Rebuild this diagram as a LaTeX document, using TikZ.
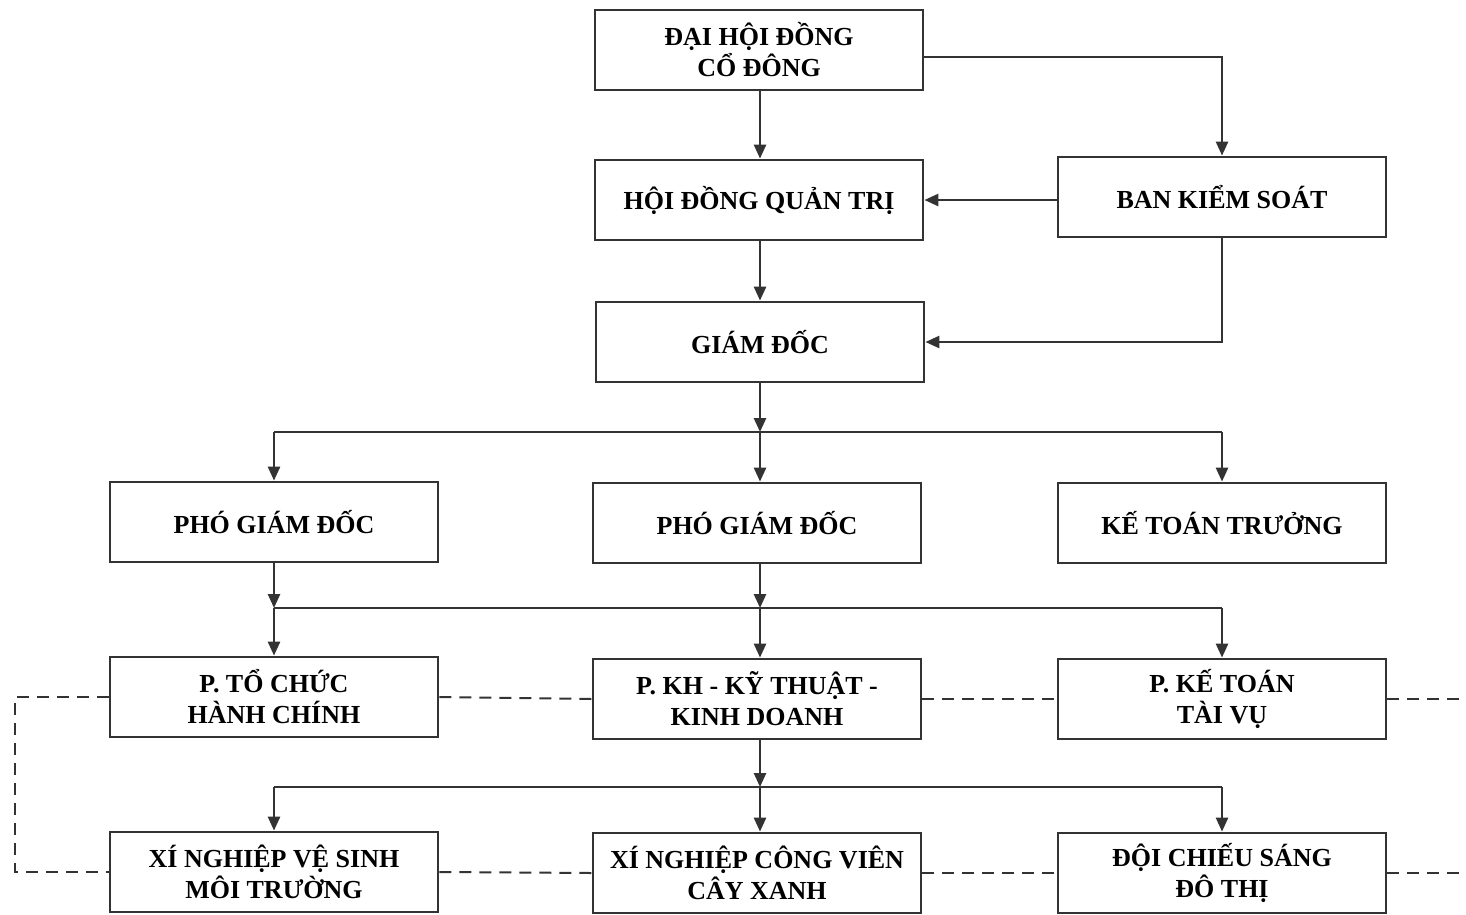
\documentclass[tikz,border=0pt]{standalone}
\usepackage{fontspec}
\setmainfont{Liberation Serif}
\usetikzlibrary{arrows.meta}

\begin{document}
\begin{tikzpicture}[x=1pt,y=-1pt,
  line width=2.6pt, draw=black!80,
  >={Triangle[length=14pt,width=12pt]}]
\tikzstyle{every node}=[draw=black!80,line width=2.8pt,minimum width=328pt,minimum height=80pt,
  align=center,inner sep=0pt,font=\bfseries\fontsize{26}{31}\selectfont]
\tikzstyle{link}=[dash pattern=on 12pt off 8pt,line width=2pt]
    \fill[white] (0,0) rectangle (1466,914);
    \useasboundingbox (0,0) rectangle (1466,914);
    % top levels
    \node (DHDCD) at (759,50)   {ĐẠI HỘI ĐỒNG\\CỔ ĐÔNG};
    \node (HDQT)  at (759,200)  {HỘI ĐỒNG QUẢN TRỊ};
    \node (BKS)   at (1222,197) {BAN KIỂM SOÁT};
    \node (GD)    at (760,342)  {GIÁM ĐỐC};
    % second level
    \node (PGD-1) at (274,522)  {PHÓ GIÁM ĐỐC};
    \node (PGD-2) at (757,523)  {PHÓ GIÁM ĐỐC};
    \node (KTT)   at (1222,523) {KẾ TOÁN TRƯỞNG};
    % departments
    \node (PTC)   at (274,697)  {P. TỔ CHỨC\\HÀNH CHÍNH};
    \node (PKH)   at (757,699)  {P. KH - KỸ THUẬT -\\KINH DOANH};
    \node (PKT)   at (1222,699) {P. KẾ TOÁN\\TÀI VỤ};
    % units
    \node (XN-1)  at (274,872)  {XÍ NGHIỆP VỆ SINH\\MÔI TRƯỜNG};
    \node (XN-2)  at (757,873)  {XÍ NGHIỆP CÔNG VIÊN\\CÂY XANH};
    \node (DCS)   at (1222,873) {ĐỘI CHIẾU SÁNG\\ĐÔ THỊ};

   \begin{scope}[every node/.style={}]
     \coordinate (Top)  at (922,57);
     \coordinate (Bus-1) at (760,432);
     \coordinate (Bus-2) at (760,608);
     \coordinate (Bus-3) at (760,787);
     \coordinate (Edge-L) at (15,0);
     \coordinate (Edge-R) at (1466,0);
   \end{scope}

   \draw[->] (DHDCD.south -| Bus-1) -- (HDQT.north -| Bus-1);
   \draw[->] (Top) -- (Top -| BKS) -- (BKS.north);
   \draw[->] (BKS.west |- HDQT) -- (HDQT.east);
   \draw[->] (HDQT.south -| Bus-1) -- (GD.north -| Bus-1);
   \draw[->] (BKS.south) -- (BKS.south |- GD.east) -- (GD.east);

   % Buses to each level
   \draw[->] (GD.south -| Bus-1) -- (Bus-1);
   \draw (Bus-1 -| PGD-1) -- (Bus-1 -| KTT);
   \foreach \n in {PGD-1,KTT}
     \draw[->] (Bus-1 -| \n) -- (\n.north);
   \draw[->] (Bus-1) -- (Bus-1 |- PGD-2.north);
   \draw[->] (PGD-1.south) -- (Bus-2 -| PGD-1);
   \draw[->] (PGD-2.south -| Bus-2) -- (Bus-2);
   \draw (Bus-2 -| PTC) -- (Bus-2 -| PKT);
   \foreach \n in {PTC,PKT}
     \draw[->] (Bus-2 -| \n) -- (\n.north);
   \draw[->] (Bus-2) -- (Bus-2 |- PKH.north);
   \draw[->] (PKH.south -| Bus-3) -- (Bus-3);
   \draw (Bus-3 -| XN-1) -- (Bus-3 -| DCS);
   \foreach \n in {XN-1,DCS}
     \draw[->] (Bus-3 -| \n) -- (\n.north);
   \draw[->] (Bus-3) -- (Bus-3 |- XN-2.north);

   % Dashed links
   \draw[link] (PTC.west) -- (PTC.west -| Edge-L) -- (XN-1.west -| Edge-L) -- (XN-1.west);
   \draw[link] (PTC.east) -- (PKH.west);
   \draw[link] (PKH.east) -- (PKT.west);
   \draw[link] (PKT.east) -- (PKT.east -| Edge-R);
   \draw[link] (XN-1.east) -- (XN-2.west);
   \draw[link] (XN-2.east) -- (DCS.west);
   \draw[link] (DCS.east) -- (DCS.east -| Edge-R);

\end{tikzpicture}
\end{document}
